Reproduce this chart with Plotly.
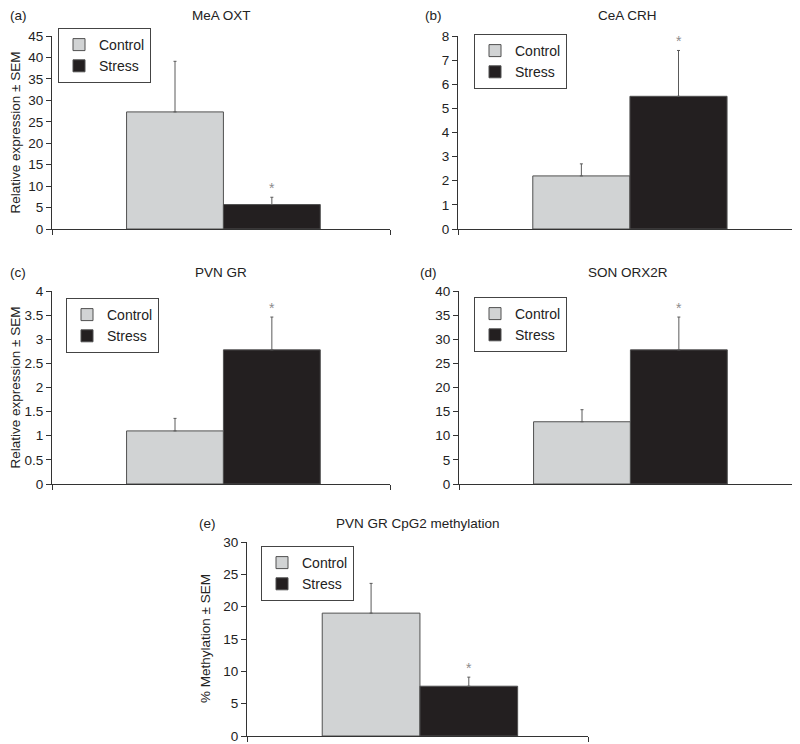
import plotly.graph_objects as go

# ---------------- data ----------------
groups = ["Control", "Stress"]
panel_letters = ["(a)", "(b)", "(c)", "(d)", "(e)"]
panel_titles = ["MeA OXT", "CeA CRH", "PVN GR", "SON ORX2R", "PVN GR CpG2 methylation"]
y_titles = ["Relative expression \u00b1 SEM", "", "Relative expression \u00b1 SEM", "", "% Methylation \u00b1 SEM"]

mea_oxt_mean = [27.3, 5.7]
mea_oxt_sem = [11.8, 1.7]
cea_crh_mean = [2.2, 5.5]
cea_crh_sem = [0.5, 1.9]
pvn_gr_mean = [1.1, 2.78]
pvn_gr_sem = [0.26, 0.68]
son_orx2r_mean = [12.9, 27.8]
son_orx2r_sem = [2.5, 6.8]
pvn_gr_meth_mean = [19.0, 7.7]
pvn_gr_meth_sem = [4.6, 1.4]

means = [mea_oxt_mean, cea_crh_mean, pvn_gr_mean, son_orx2r_mean, pvn_gr_meth_mean]
sems = [mea_oxt_sem, cea_crh_sem, pvn_gr_sem, son_orx2r_sem, pvn_gr_meth_sem]
significant = [1, 1, 1, 1, 1]  # index of the group marked with an asterisk
y_max = [45, 8, 4, 40, 30]
y_dtick = [5, 1, 0.5, 5, 5]

# ---------------- styling / layout ----------------
# The page body has an 8px margin, so the figure is drawn 8px in from the
# window's top-left corner; size it so it fills the 800x744 window exactly.
OFF = 8
W, H = 800 - OFF, 744 - OFF
FONT = "Liberation Sans, Arial, Helvetica, sans-serif"
fill_colors = ["#d1d3d4", "#231f20"]
line_colors = ["#505050", "#505050"]

# plot areas in window pixels: (left, right, top, bottom)
areas = [(52, 390, 36, 229), (458, 797, 36, 229), (52, 390, 291, 484),
         (459, 797, 291, 484), (247, 588, 542, 736)]
legend_pos = [(58, 28), (474, 34), (66, 298), (474, 297), (261, 546)]
# (left x, top y) of the panel letter / title row, window pixels
label_pos = [(8, 6), (423, 6), (8, 263), (418, 263), (197, 514)]
ytitle_x = [15, None, 15, None, 205]
x_range = [-1.27, 2.22]

def px(x):
    return (x - OFF) / W

def py(y):
    return 1 - (y - OFF) / H

fig = go.Figure()
annotations = []
layout_extra = {}

for p in range(5):
    suffix = "" if p == 0 else str(p + 1)
    xa, ya = "x" + suffix, "y" + suffix
    leg = "legend" + suffix
    l, r, t, b = areas[p]
    for i, g in enumerate(groups):
        fig.add_trace(go.Bar(
            x=[i], y=[means[p][i]], width=[1], name=g,
            xaxis=xa, yaxis=ya, legend=leg,
            marker=dict(color=fill_colors[i], line=dict(color=line_colors[i], width=1)),
            error_y=dict(type="data", array=[sems[p][i]], arrayminus=[0], symmetric=False,
                         color="#5a5a5a", thickness=1, width=1.5),
            showlegend=True,
        ))
    layout_extra["xaxis" + suffix] = dict(
        domain=[px(l), px(r)], range=x_range, anchor=ya, automargin=False,
        showline=True, linecolor="#333333", linewidth=1,
        showgrid=False, zeroline=False, showticklabels=False,
        tickvals=[x_range[0] + 1e-6, x_range[1] - 1e-6], ticks="outside", ticklen=5,
        tickcolor="#333333", fixedrange=True,
    )
    layout_extra["yaxis" + suffix] = dict(
        domain=[py(b), py(t)], range=[0, y_max[p]], dtick=y_dtick[p], anchor=xa,
        automargin=False, ticklabeloverflow="allow",
        showline=True, linecolor="#333333", linewidth=1,
        showgrid=False, zeroline=False, ticks="outside", ticklen=5,
        tickcolor="#333333", tickfont=dict(size=13.5, color="#222222"),
    )
    lx, ly = legend_pos[p]
    layout_extra[leg] = dict(
        x=px(lx), y=py(ly), xanchor="left", yanchor="top",
        bordercolor="#444444", borderwidth=1, bgcolor="white",
        font=dict(size=14, color="#222222", family=FONT),
        itemwidth=30, tracegroupgap=0, traceorder="normal",
    )
    # panel title
    annotations.append(dict(
        x=px((l + r) / 2), y=py(label_pos[p][1]), xref="paper", yref="paper",
        text=panel_titles[p], showarrow=False, xanchor="center", yanchor="top",
        font=dict(size=13.5, color="#222222"),
    ))
    # panel letter
    annotations.append(dict(
        x=px(label_pos[p][0]), y=py(label_pos[p][1]), xref="paper", yref="paper",
        text=panel_letters[p], showarrow=False, xanchor="left", yanchor="top",
        font=dict(size=13.5, color="#222222"),
    ))
    # y-axis title
    if y_titles[p]:
        annotations.append(dict(
            x=px(ytitle_x[p]), y=py((t + b) / 2), xref="paper", yref="paper",
            text=y_titles[p], showarrow=False, textangle=-90,
            xanchor="center", yanchor="middle",
            font=dict(size=13.5, color="#222222"),
        ))
    # significance asterisk
    s = significant[p]
    annotations.append(dict(
        x=s, y=means[p][s] + sems[p][s], xref=xa, yref=ya,
        text="*", showarrow=False, xanchor="center", yanchor="bottom", yshift=-1,
        font=dict(size=14, color="#8c8c8c"),
    ))

fig.update_layout(
    template="none",
    width=W, height=H, margin=dict(l=0, r=0, t=0, b=0, autoexpand=False),
    paper_bgcolor="white", plot_bgcolor="white",
    font=dict(family=FONT, color="#222222"),
    barmode="overlay", annotations=annotations, **layout_extra,
)

fig.write_html("out.html")
